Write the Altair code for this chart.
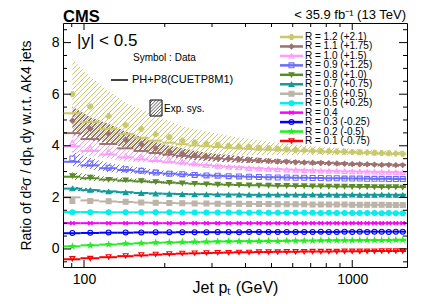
import altair as alt
import pandas as pd
import numpy as np

FONT = "Liberation Sans"

PT = [90.5, 105.5, 123.5, 143, 163.5, 185, 208, 232.5, 258.5, 286, 315, 346, 378.5, 412.5,
      449, 487.5, 527.5, 570, 615, 662, 711.5, 763.5, 818, 875.5, 936, 999.5, 1066.5,
      1136.5, 1210, 1287.5, 1368.5, 1453.5, 1542.5]
EDGES = [84, 97, 114, 133, 153, 174, 196, 220, 245, 272, 300, 330, 362, 395, 430, 468, 507,
         548, 592, 638, 686, 737, 790, 846, 905, 967, 1032, 1101, 1172, 1248, 1327, 1410,
         1497, 1588]

LABELS = ["R = 1.2 (+2.1)", "R = 1.1 (+1.75)", "R = 1.0 (+1.5)", "R = 0.9 (+1.25)",
          "R = 0.8 (+1.0)", "R = 0.7 (+0.75)", "R = 0.6 (+0.5)", "R = 0.5 (+0.25)",
          "R = 0.4", "R = 0.3 (-0.25)", "R = 0.2 (-0.5)", "R = 0.1 (-0.75)"]
COLORS = ["#c9c96b", "#a07070", "#ff9cff", "#6b6bff", "#5a8a2a", "#139a9a",
          "#bdb3a8", "#00efef", "#ff00ff", "#0000ff", "#22ee22", "#ff0000"]
STAR = ("M0,-1L0.235,-0.324L0.951,-0.309L0.38,0.124L0.588,0.809L0,0.4L-0.588,0.809"
        "L-0.38,0.124L-0.951,-0.309L-0.235,-0.324Z")
XMARK = "M-0.8,-0.8L0.8,0.8M-0.8,0.8L0.8,-0.8M-0.8,-0.8L-0.8,0.8M0.8,-0.8L0.8,0.8"
SHAPES = ["cross", "diamond", "triangle-up", "square", "triangle-down", "triangle-up",
          "square", "circle", XMARK, "circle", STAR, "triangle-down"]
FILLS = [COLORS[0], COLORS[1], "transparent", "transparent", COLORS[4], COLORS[5],
         COLORS[6], COLORS[7], COLORS[8], "transparent", COLORS[10], "transparent"]

# data (ratio + offset, as plotted)
D12 = [6.00, 5.52, 5.15, 4.80, 4.65, 4.45, 4.33, 4.20, 4.13, 4.08, 4.04, 4.00, 3.97, 3.95, 3.92, 3.90, 3.88,
       3.86, 3.84, 3.83, 3.81, 3.80, 3.79, 3.78, 3.77, 3.76, 3.75, 3.74, 3.73, 3.72, 3.71, 3.70, 3.69]
D11 = [4.97, 4.66, 4.47, 4.23, 4.07, 3.90, 3.78, 3.70, 3.63, 3.57, 3.53, 3.50, 3.47, 3.45, 3.43, 3.41, 3.39,
       3.38, 3.36, 3.35, 3.34, 3.33, 3.32, 3.31, 3.30, 3.29, 3.28, 3.28, 3.27, 3.26, 3.26, 3.25, 3.25]
D10 = [4.13, 3.91, 3.78, 3.61, 3.56, 3.50, 3.45, 3.38, 3.31, 3.25, 3.21, 3.18, 3.15, 3.13, 3.11, 3.10, 3.08,
       3.07, 3.06, 3.05, 3.04, 3.03, 3.02, 3.02, 3.01, 3.00, 3.00, 2.99, 2.99, 2.98, 2.98, 2.97, 2.97]
D09 = [3.51, 3.31, 3.15, 3.09, 3.03, 2.96, 2.92, 2.90, 2.87, 2.85, 2.84, 2.82, 2.81, 2.80, 2.79, 2.78, 2.77,
       2.77, 2.76, 2.76, 2.75, 2.75, 2.74, 2.74, 2.73, 2.73, 2.73, 2.72, 2.72, 2.72, 2.71, 2.71, 2.71]
D08 = [2.83, 2.77, 2.69, 2.67, 2.64, 2.60, 2.57, 2.55, 2.53, 2.51, 2.50, 2.49, 2.48, 2.47, 2.46, 2.46, 2.45,
       2.45, 2.44, 2.44, 2.43, 2.43, 2.42, 2.42, 2.42, 2.41, 2.41, 2.41, 2.40, 2.40, 2.40, 2.40, 2.39]
D07 = [2.34, 2.28, 2.22, 2.19, 2.16, 2.14, 2.13, 2.12, 2.11, 2.11, 2.11, 2.10, 2.10, 2.10, 2.10, 2.10, 2.10,
       2.10, 2.10, 2.09, 2.10, 2.09, 2.10, 2.09, 2.09, 2.10, 2.09, 2.09, 2.09, 2.10, 2.09, 2.09, 2.09]
D06 = [1.86, 1.86, 1.85, 1.83, 1.80, 1.79, 1.78, 1.77, 1.76, 1.76, 1.75, 1.75, 1.75, 1.74, 1.74, 1.74, 1.73,
       1.73, 1.73, 1.73, 1.72, 1.72, 1.72, 1.72, 1.72, 1.71, 1.71, 1.71, 1.71, 1.71, 1.70, 1.70, 1.70]
D05 = [1.42, 1.42, 1.42, 1.42, 1.42, 1.42, 1.42, 1.41, 1.41, 1.41, 1.41, 1.41, 1.41, 1.40, 1.41, 1.40, 1.40,
       1.40, 1.40, 1.40, 1.40, 1.39, 1.40, 1.39, 1.39, 1.39, 1.39, 1.39, 1.39, 1.38, 1.39, 1.38, 1.38]
D04 = [1.00, 1.00, 1.00, 1.00, 1.00, 1.00, 1.00, 1.00, 1.00, 1.00, 1.00, 1.00, 1.00, 1.00, 1.00, 1.00, 1.00,
       1.00, 1.00, 1.00, 1.00, 1.00, 1.00, 1.00, 1.00, 1.00, 1.00, 1.00, 1.00, 1.00, 1.00, 1.00, 1.00]
D03 = [0.62, 0.63, 0.64, 0.64, 0.64, 0.65, 0.65, 0.65, 0.65, 0.65, 0.66, 0.66, 0.65, 0.66, 0.66, 0.66, 0.66,
       0.66, 0.66, 0.66, 0.66, 0.67, 0.66, 0.66, 0.67, 0.66, 0.67, 0.66, 0.67, 0.67, 0.66, 0.67, 0.67]
D02 = [0.10, 0.14, 0.18, 0.21, 0.23, 0.25, 0.26, 0.27, 0.28, 0.28, 0.29, 0.30, 0.30, 0.30, 0.31, 0.31, 0.31,
       0.32, 0.32, 0.32, 0.32, 0.33, 0.33, 0.33, 0.33, 0.33, 0.34, 0.34, 0.34, 0.34, 0.34, 0.35, 0.35]
D01 = [-0.38, -0.37, -0.31, -0.27, -0.23, -0.21, -0.19, -0.17, -0.16, -0.15, -0.14, -0.14, -0.13, -0.13,
       -0.12, -0.12, -0.12, -0.11, -0.11, -0.11, -0.10, -0.10, -0.10, -0.10, -0.09, -0.09, -0.09, -0.09,
       -0.09, -0.08, -0.08, -0.08, -0.08]

# PH+P8 (CUETP8M1) prediction
T12 = [5.26, 4.92, 4.66, 4.46, 4.31, 4.20, 4.12, 4.06, 4.01, 3.98, 3.95, 3.92, 3.90, 3.88, 3.86, 3.85, 3.84,
       3.82, 3.81, 3.80, 3.79, 3.78, 3.77, 3.76, 3.75, 3.74, 3.73, 3.72, 3.71, 3.70, 3.69, 3.68, 3.67]
T11 = [4.49, 4.26, 4.07, 3.90, 3.80, 3.72, 3.66, 3.61, 3.57, 3.54, 3.51, 3.48, 3.46, 3.44, 3.42, 3.41, 3.39,
       3.38, 3.37, 3.36, 3.35, 3.34, 3.33, 3.32, 3.31, 3.30, 3.29, 3.29, 3.28, 3.27, 3.27, 3.26, 3.26]
T10 = [3.98, 3.80, 3.66, 3.55, 3.47, 3.41, 3.36, 3.32, 3.28, 3.25, 3.22, 3.19, 3.17, 3.15, 3.13, 3.11, 3.10,
       3.08, 3.07, 3.06, 3.05, 3.04, 3.03, 3.02, 3.01, 3.01, 3.00, 3.00, 2.99, 2.99, 2.98, 2.98, 2.97]
T09 = [3.38, 3.24, 3.13, 3.06, 3.00, 2.95, 2.92, 2.89, 2.87, 2.85, 2.84, 2.82, 2.81, 2.80, 2.79, 2.78, 2.78,
       2.77, 2.76, 2.76, 2.75, 2.75, 2.74, 2.74, 2.74, 2.73, 2.73, 2.73, 2.72, 2.72, 2.72, 2.71, 2.71]
T08 = [2.80, 2.74, 2.69, 2.65, 2.62, 2.59, 2.57, 2.55, 2.53, 2.52, 2.50, 2.49, 2.48, 2.47, 2.47, 2.46, 2.45,
       2.45, 2.44, 2.44, 2.43, 2.43, 2.43, 2.42, 2.42, 2.42, 2.41, 2.41, 2.41, 2.40, 2.40, 2.40, 2.40]
T07 = [2.34, 2.28, 2.23, 2.20, 2.17, 2.15, 2.14, 2.13, 2.12, 2.12, 2.11, 2.11, 2.11, 2.10, 2.10, 2.10, 2.10,
       2.10, 2.10, 2.10, 2.10, 2.10, 2.10, 2.10, 2.10, 2.10, 2.10, 2.10, 2.10, 2.10, 2.10, 2.10, 2.10]
T06 = [2.00, 1.88, 1.84, 1.82, 1.80, 1.79, 1.78, 1.77, 1.77, 1.76, 1.76, 1.75, 1.75, 1.75, 1.74, 1.74, 1.74,
       1.73, 1.73, 1.73, 1.73, 1.72, 1.72, 1.72, 1.72, 1.71, 1.71, 1.71, 1.71, 1.71, 1.70, 1.70, 1.70]
T05 = [1.43, 1.43, 1.42, 1.42, 1.42, 1.42, 1.42, 1.41, 1.41, 1.41, 1.41, 1.41, 1.41, 1.41, 1.41, 1.40, 1.40,
       1.40, 1.40, 1.40, 1.40, 1.40, 1.40, 1.40, 1.40, 1.39, 1.39, 1.39, 1.39, 1.39, 1.39, 1.39, 1.39]
T04 = [1.00, 1.00, 1.00, 1.00, 1.00, 1.00, 1.00, 1.00, 1.00, 1.00, 1.00, 1.00, 1.00, 1.00, 1.00, 1.00, 1.00,
       1.00, 1.00, 1.00, 1.00, 1.00, 1.00, 1.00, 1.00, 1.00, 1.00, 1.00, 1.00, 1.00, 1.00, 1.00, 1.00]
T03 = [0.61, 0.62, 0.63, 0.63, 0.64, 0.64, 0.64, 0.65, 0.65, 0.65, 0.65, 0.65, 0.65, 0.66, 0.66, 0.66, 0.66,
       0.66, 0.66, 0.66, 0.66, 0.66, 0.66, 0.66, 0.67, 0.67, 0.67, 0.67, 0.67, 0.67, 0.67, 0.67, 0.67]
T02 = [0.10, 0.14, 0.17, 0.20, 0.22, 0.24, 0.25, 0.26, 0.27, 0.28, 0.29, 0.29, 0.30, 0.30, 0.30, 0.31, 0.31,
       0.31, 0.32, 0.32, 0.32, 0.32, 0.33, 0.33, 0.33, 0.33, 0.33, 0.34, 0.34, 0.34, 0.34, 0.34, 0.35]
T01 = [-0.40, -0.36, -0.32, -0.28, -0.25, -0.22, -0.20, -0.18, -0.17, -0.16, -0.15, -0.14, -0.13, -0.13,
       -0.12, -0.12, -0.11, -0.11, -0.11, -0.10, -0.10, -0.10, -0.10, -0.09, -0.09, -0.09, -0.09, -0.08,
       -0.08, -0.08, -0.08, -0.08, -0.08]

# experimental systematic half-widths
E12 = [1.35, 1.15, 0.98, 0.86, 0.77, 0.70, 0.63, 0.57, 0.52, 0.47, 0.43, 0.39, 0.35, 0.32, 0.29, 0.26, 0.24,
       0.22, 0.20, 0.18, 0.17, 0.16, 0.15, 0.14, 0.13, 0.12, 0.12, 0.11, 0.11, 0.10, 0.10, 0.10, 0.10]
E11 = [0.55, 0.45, 0.38, 0.32, 0.28, 0.25, 0.22, 0.20, 0.18, 0.16, 0.15, 0.14, 0.13, 0.12, 0.11, 0.10, 0.10,
       0.09, 0.09, 0.08, 0.08, 0.08, 0.07, 0.07, 0.07, 0.07, 0.07, 0.06, 0.06, 0.06, 0.06, 0.06, 0.06]
E10 = [0.40, 0.32, 0.27, 0.23, 0.20, 0.17, 0.15, 0.14, 0.12, 0.11, 0.10, 0.09, 0.09, 0.08, 0.08, 0.07, 0.07,
       0.06, 0.06, 0.06, 0.06, 0.05, 0.05, 0.05, 0.05, 0.05, 0.05, 0.05, 0.05, 0.05, 0.05, 0.05, 0.05]
E09 = [0.28, 0.22, 0.18, 0.15, 0.13, 0.11, 0.10, 0.09, 0.08, 0.07, 0.07, 0.06, 0.06, 0.05, 0.05, 0.05, 0.05,
       0.04, 0.04, 0.04, 0.04, 0.04, 0.04, 0.04, 0.04, 0.04, 0.04, 0.04, 0.04, 0.04, 0.04, 0.04, 0.04]
E08 = [0.15, 0.12, 0.10, 0.08, 0.07, 0.06, 0.05, 0.05, 0.04, 0.04, 0.04, 0.04, 0.03, 0.03, 0.03, 0.03, 0.03,
       0.03, 0.03, 0.03, 0.03, 0.03, 0.03, 0.03, 0.03, 0.03, 0.03, 0.03, 0.03, 0.03, 0.03, 0.03, 0.03]
E07 = [0.08, 0.06, 0.05, 0.04, 0.04, 0.03, 0.03, 0.03, 0.03, 0.03, 0.03, 0.03, 0.03, 0.03, 0.03, 0.03, 0.03,
       0.03, 0.03, 0.03, 0.03, 0.03, 0.03, 0.03, 0.03, 0.03, 0.03, 0.03, 0.03, 0.03, 0.03, 0.03, 0.03]

DATA = [D12, D11, D10, D09, D08, D07, D06, D05, D04, D03, D02, D01]
THEO = [T12, T11, T10, T09, T08, T07, T06, T05, T04, T03, T02, T01]
ERRS = {0: E12, 1: E11, 2: E10, 3: E09, 4: E08, 5: E07}

rows = []
for i, lab in enumerate(LABELS):
    for j in range(len(PT)):
        e = ERRS[i][j] if i in ERRS else 0.0
        rows.append(dict(series=lab, pt=PT[j], lo=EDGES[j], hi=EDGES[j + 1],
                         val=DATA[i][j], theo=THEO[i][j], blo=DATA[i][j] - e, bhi=DATA[i][j] + e))
df = pd.DataFrame(rows)

W, H = 344, 244
XDOM = [83.5, 1600]
YDOM = [-0.7, 8.76]
xs = alt.Scale(type="log", domain=XDOM, nice=False)
ys = alt.Scale(domain=YDOM, nice=False, zero=False)
xaxis = alt.Axis(values=[100, 1000], format="d", tickSize=0, domain=False, grid=False,
                 labelFont=FONT, labelFontSize=14, labelColor="black", labelPadding=5,
                 title="Jet pₜ (GeV)", titleFont=FONT, titleFontSize=16, titleFontWeight="normal",
                 titleColor="black", titleX=172, titleY=25, titleAlign="center",
                 titleBaseline="alphabetic")
yaxis = alt.Axis(values=[0, 2, 4, 6, 8], tickSize=0, domain=False, grid=False,
                 labelFont=FONT, labelFontSize=14, labelColor="black", labelPadding=4,
                 title="Ratio of d²σ / dpₜ dy w.r.t. AK4 jets", titleFont=FONT, titleFontSize=14,
                 titleFontWeight="normal", titleColor="black", titleX=-37, titleY=122,
                 titleAngle=270, titleAlign="center", titleBaseline="middle")

col = alt.Scale(domain=LABELS, range=COLORS)
shp = alt.Scale(domain=LABELS, range=SHAPES)
fil = alt.Scale(domain=LABELS, range=FILLS)

X = alt.X("pt:Q", scale=xs, axis=xaxis)


def px(v):
    return W * (np.log10(v) - np.log10(XDOM[0])) / (np.log10(XDOM[1]) - np.log10(XDOM[0]))


def py(v):
    return H * (YDOM[1] - v) / (YDOM[1] - YDOM[0])


def hatch_fill(color, sub):
    # diagonal "///" hatch pattern built from a hard-stop linear gradient over the band's bbox
    wb = px(PT[-1]) - px(PT[0])
    hb = max(py(sub["blo"].min()) - py(sub["bhi"].max()), 1.0)
    a = wb / hb
    k = 1.0 / (hb * (a * a + 1))
    period, lw = 5.0, 1.1
    tmax = (wb + hb) * k
    stops = []
    s = 0.0
    clear = "rgba(255,255,255,0)"
    while s < tmax and s + period * k <= 1:
        stops += [{"offset": s, "color": color}, {"offset": s + lw * k, "color": color},
                  {"offset": s + lw * k, "color": clear}, {"offset": s + period * k, "color": clear}]
        s += period * k
    return {"gradient": "linear", "x1": 0, "y1": 0, "x2": a, "y2": 1, "stops": stops}


bands = []
for i in sorted(ERRS):
    sub = df[df["series"] == LABELS[i]]
    bands.append(alt.Chart(sub).mark_area(fill=hatch_fill(COLORS[i], sub), clip=True).encode(
        x=X, y=alt.Y("blo:Q", scale=ys, axis=yaxis), y2="bhi:Q"))

theory = alt.Chart(df).mark_rule(strokeWidth=2, clip=True).encode(
    x=alt.X("lo:Q", scale=xs, axis=xaxis), x2="hi:Q",
    y=alt.Y("theo:Q", scale=ys, axis=yaxis),
    color=alt.Color("series:N", scale=col, legend=None))

points = alt.Chart(df).mark_point(size=24, strokeWidth=1.1, opacity=1, clip=True).encode(
    x=X, y=alt.Y("val:Q", scale=ys, axis=yaxis),
    shape=alt.Shape("series:N", scale=shp, legend=None),
    stroke=alt.Stroke("series:N", scale=col, legend=None),
    fill=alt.Fill("series:N", scale=fil, legend=None))

# inward ticks
y_major = pd.DataFrame({"v": [0, 2, 4, 6, 8]})
y_minor = pd.DataFrame({"v": [v for v in np.arange(-0.5, 8.76, 0.5) if v % 2 != 0]})
x_major = pd.DataFrame({"v": [100, 1000]})
x_minor = pd.DataFrame({"v": [90, 200, 300, 400, 500, 600, 700, 800, 900]})


def ytick(d, x0, x1):
    return alt.Chart(d).mark_rule(color="black", strokeWidth=1).encode(
        y=alt.Y("v:Q", scale=ys, axis=yaxis), x=alt.value(x0), x2=alt.value(x1))


def xtick(d, y0, y1):
    return alt.Chart(d).mark_rule(color="black", strokeWidth=1).encode(
        x=alt.X("v:Q", scale=xs, axis=xaxis), y=alt.value(y0), y2=alt.value(y1))


ticks = [ytick(y_major, 0, 8), ytick(y_major, W, W - 8), ytick(y_minor, 0, 4), ytick(y_minor, W, W - 4),
         xtick(x_major, H, H - 7), xtick(x_major, 0, 7), xtick(x_minor, H, H - 4), xtick(x_minor, 0, 4)]

main = alt.layer(*bands, theory, points, *ticks)

# legend
leg_df = pd.DataFrame({"series": LABELS})
LY = alt.Y("series:N", scale=alt.Scale(type="point", domain=LABELS, range=[14, 118], padding=0), axis=None)
leg_line = alt.Chart(leg_df).mark_rule(strokeWidth=2.5).encode(
    x=alt.value(217), x2=alt.value(240), y=LY, color=alt.Color("series:N", scale=col, legend=None))
leg_pt = alt.Chart(leg_df).mark_point(size=24, strokeWidth=1.1, opacity=1).encode(
    x=alt.value(228.5), y=LY,
    shape=alt.Shape("series:N", scale=shp, legend=None),
    stroke=alt.Stroke("series:N", scale=col, legend=None),
    fill=alt.Fill("series:N", scale=fil, legend=None))
leg_txt = alt.Chart(leg_df).mark_text(align="left", baseline="middle", font=FONT, fontSize=10,
                                      color="black").encode(x=alt.value(242), y=LY, text="series:N")

one = pd.DataFrame({"k": [0]})


def label(txt, x, y, size, align="left", baseline="middle", weight="normal"):
    return alt.Chart(one).mark_text(text=txt, align=align, baseline=baseline, font=FONT,
                                    fontSize=size, fontWeight=weight, color="black").encode(
        x=alt.value(x), y=alt.value(y))


texts = [
    label("CMS", 0, -1.5, 16.5, baseline="alphabetic", weight="bold"),
    label("< 35.9 fb⁻¹ (13 TeV)", 343, -4, 13, align="right", baseline="alphabetic"),
    label("|y| < 0.5", 14, 18, 17),
    label("Symbol : Data", 70, 35, 10),
    label("PH+P8(CUETP8M1)", 69, 57, 11),
    label("Exp. sys.", 101, 86, 10),
]
ph_line = alt.Chart(one).mark_rule(color="black", strokeWidth=1.5).encode(
    x=alt.value(48), x2=alt.value(65), y=alt.value(57))

bx0, bx1, by0, by1 = 87, 99, 77, 93
box = alt.Chart(one).mark_rect(fill="white", stroke="black", strokeWidth=1).encode(
    x=alt.value(bx0), x2=alt.value(bx1), y=alt.value(by0), y2=alt.value(by1))
segs = []
for c in np.arange(bx0 + by0 + 3, bx1 + by1 - 1, 3.2):
    sx = max(bx0, c - by1)
    ex = min(bx1, c - by0)
    if ex - sx > 0.5:
        segs.append(dict(x=sx, y=c - sx, x2=ex, y2=c - ex))
hatch = alt.Chart(pd.DataFrame(segs)).mark_rule(color="#333333", strokeWidth=0.8).encode(
    x=alt.X("x:Q", scale=None), y=alt.Y("y:Q", scale=None),
    x2="x2:Q", y2="y2:Q")

overlay = alt.layer(leg_line, leg_pt, leg_txt, *texts, ph_line, box, hatch)

chart = alt.layer(main, overlay).resolve_scale(y="independent", x="independent").properties(
    width=W, height=H,
    padding={"left": 55, "top": 15, "right": 9, "bottom": 29},
    autosize=alt.AutoSizeParams(type="none"),
).configure_view(stroke="black", strokeWidth=1)

chart.save("out.html", embed_options={"renderer": "svg", "actions": False})
